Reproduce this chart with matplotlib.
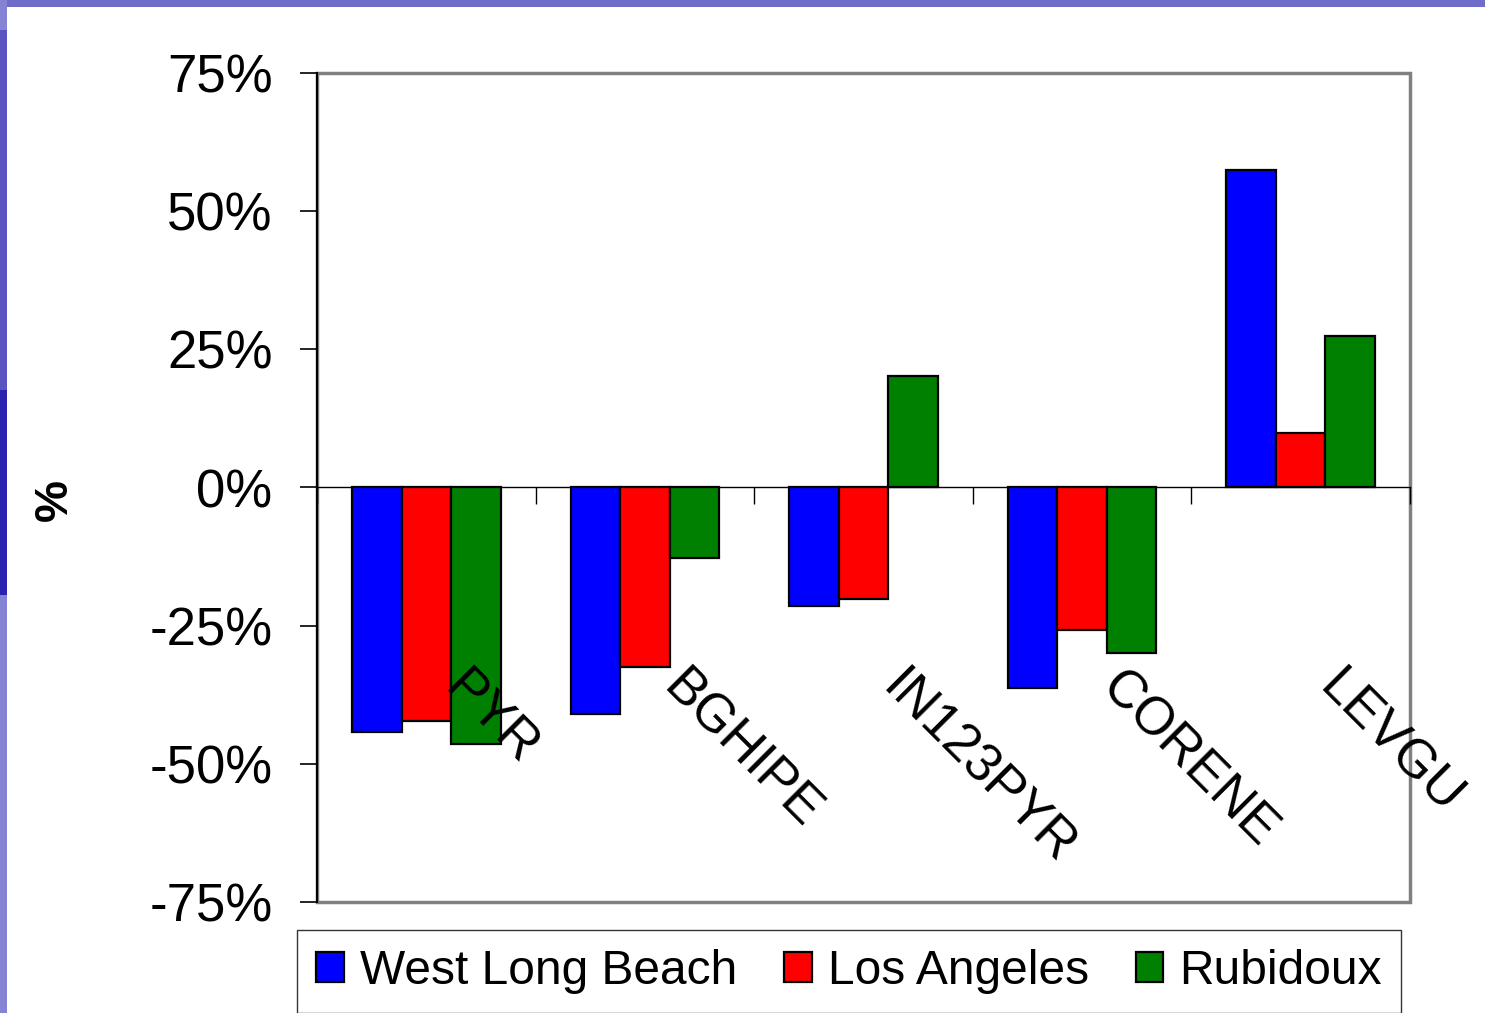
import matplotlib
matplotlib.use("Agg")
import matplotlib.pyplot as plt
from matplotlib.patches import Rectangle
import numpy as np

categories = ["PYR", "BGHIPE", "IN123PYR", "CORENE", "LEVGU"]
series_names = ["West Long Beach", "Los Angeles", "Rubidoux"]
west_long_beach = [-44.2, -41.0, -21.5, -36.2, 57.5]
los_angeles = [-42.2, -32.4, -20.2, -25.8, 9.8]
rubidoux = [-46.5, -12.8, 20.1, -30.0, 27.5]
colors = ["#0000FF", "#FF0000", "#008000"]
yticks = [-75, -50, -25, 0, 25, 50, 75]
ytick_labels = ["-75%", "-50%", "-25%", "0%", "25%", "50%", "75%"]

plt.rcParams['font.family'] = ['Liberation Sans', 'DejaVu Sans']

W, H = 1485, 1013
fig = plt.figure(figsize=(W / 100, H / 100), dpi=100)
fig.patch.set_facecolor("white")

# decorative slide frame (top and left bands)
fig.patches.append(Rectangle((0, 1 - 7 / H), 1, 7 / H, transform=fig.transFigure,
                             facecolor="#6E6CC9", edgecolor="none", zorder=0))
fig.patches.append(Rectangle((0, 0), 7 / W, 1, transform=fig.transFigure,
                             facecolor="#8583D3", edgecolor="none", zorder=0))
fig.patches.append(Rectangle((0, 1 - 390 / H), 7 / W, 360 / H, transform=fig.transFigure,
                             facecolor="#5A55C0", edgecolor="none", zorder=0))
fig.patches.append(Rectangle((0, 1 - 595 / H), 7 / W, 205 / H, transform=fig.transFigure,
                             facecolor="#2B22B0", edgecolor="none", zorder=0))

ax = fig.add_axes([317 / W, 1 - 902 / H, (1410 - 317) / W, (902 - 73) / H])

x = np.arange(len(categories))
bw = 0.2265
for k, (vals, name) in enumerate(zip([west_long_beach, los_angeles, rubidoux], series_names)):
    ax.bar(x + (k - 1) * bw, vals, width=bw, color=colors[k], edgecolor="black",
           linewidth=1.6, label=name, zorder=3)

ax.set_xlim(-0.5, len(categories) - 0.5)
ax.set_ylim(-75, 75)
ax.set_yticks(yticks)
ax.set_yticklabels(ytick_labels, fontsize=38)
ax.tick_params(axis="y", direction="out", length=12, width=1.2, pad=20, color="black")

ax.spines["bottom"].set_position(("data", 0))
ax.spines["bottom"].set_color("black")
ax.spines["bottom"].set_linewidth(1.0)
ax.set_xticks(np.arange(len(categories) + 1) - 0.5)
ax.tick_params(axis="x", direction="out", length=12, width=1.0, labelbottom=False)
ax.spines["top"].set_visible(False)
ax.spines["right"].set_visible(False)
ax.spines["left"].set_color("black")
ax.spines["left"].set_linewidth(1.5)
ax.spines["left"].set_zorder(5)

# grey plot-area border
ax.add_patch(Rectangle((0, 0), 1, 1, transform=ax.transAxes, fill=False,
                       edgecolor="#808080", linewidth=2.5, clip_on=False, zorder=1))

for i, c in enumerate(categories):
    ax.text(i + 0.2, -31.6, c, rotation=-45, rotation_mode="anchor", ha="left", va="top",
            fontsize=38, zorder=6)

fig.text(55 / W, 1 - 500 / H, "%", rotation=90, fontsize=34, fontweight="bold",
         ha="center", va="center")

leg = fig.legend(loc="upper left", bbox_to_anchor=(297 / W, 1 - 930 / H), ncol=3,
                 fontsize=34.5, frameon=True, fancybox=False, edgecolor="black",
                 handlelength=0.58, handleheight=0.58, handletextpad=0.33,
                 columnspacing=0.98, borderpad=0.4, borderaxespad=0)
leg.get_frame().set_linewidth(1.0)

fig.savefig("out.png", dpi=100, facecolor="white")
